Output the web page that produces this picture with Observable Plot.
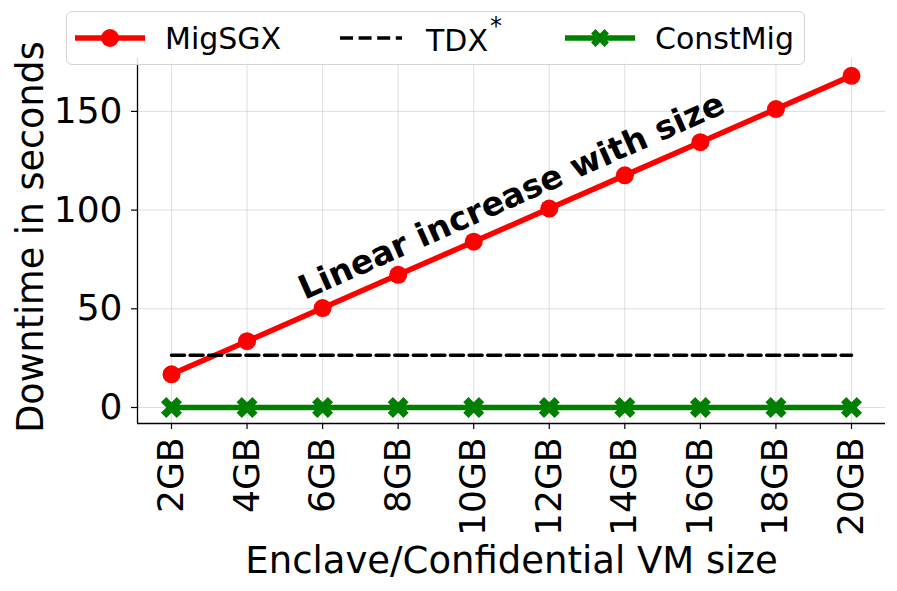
<!DOCTYPE html>
<html><head><meta charset="utf-8">
<script src="https://cdn.jsdelivr.net/npm/d3@7"></script>
<script src="https://cdn.jsdelivr.net/npm/@observablehq/plot@0.6"></script>
<style>
body{margin:0;background:#fff;font-family:"DejaVu Sans",sans-serif;}
#wrap{position:relative;width:897px;height:591px;overflow:hidden;}
#legend{position:absolute;left:66px;top:11px;width:737px;height:52px;border:1.5px solid #d4d4d4;border-radius:6px;background:rgba(255,255,255,0.85);}
.item{position:absolute;top:0;height:52px;display:flex;align-items:center;font-size:30px;color:#000;white-space:nowrap;}
.item svg{display:block;}
sup{font-size:24px;position:relative;top:-6px;margin-left:2px;}
</style></head><body>
<div id="wrap"><div id="chart"></div><div id="legend"></div></div>
<script>
// ---- data ----
const sizes = ["2GB","4GB","6GB","8GB","10GB","12GB","14GB","16GB","18GB","20GB"];
const migSGX = [16.8, 33.6, 50.4, 67.2, 84.0, 100.8, 117.6, 134.4, 151.2, 168.0];
const tdx = [26.5, 26.5, 26.5, 26.5, 26.5, 26.5, 26.5, 26.5, 26.5, 26.5];
const constMig = [0, 0, 0, 0, 0, 0, 0, 0, 0, 0];
const yTicks = [0, 50, 100, 150];
const seriesNames = ["MigSGX", "TDX", "ConstMig"];
const annotation = "Linear increase with size";
const annotX = 4.5, annotY = 107;
const xLabel = "Enclave/Confidential VM size";
const yLabel = "Downtime in seconds";

// ---- build ----
const idx = d3.range(sizes.length);
const rows = idx.map(i => ({i, mig: migSGX[i], tdx: tdx[i], cm: constMig[i]}));
const xDomain = [-0.45, sizes.length - 1 + 0.45];
const yDomain = [-8.1, 176.8];
const RED = "#ff0000", GREEN = "#008000";

const xFilled = {
  draw(ctx, size) {
    const r = Math.sqrt(size / Math.PI), k = r / 2;
    const p = [[-1,-2],[0,-1],[1,-2],[2,-1],[1,0],[2,1],[1,2],[0,1],[-1,2],[-2,1],[-1,0],[-2,-1]];
    ctx.moveTo(p[0][0]*k, p[0][1]*k);
    for (let j = 1; j < p.length; j++) ctx.lineTo(p[j][0]*k, p[j][1]*k);
    ctx.closePath();
  }
};

const gridStyle = {stroke: "#b0b0b0", strokeOpacity: 0.4, strokeWidth: 1};

const chart = Plot.plot({
  width: 897, height: 591,
  marginLeft: 137, marginRight: 12, marginTop: 58, marginBottom: 168,
  style: {fontFamily: '"DejaVu Sans", sans-serif', fontSize: "36px", color: "#000", background: "white", overflow: "visible"},
  x: {type: "linear", domain: xDomain},
  y: {domain: yDomain},
  marks: [
    Plot.gridX(idx, gridStyle),
    Plot.gridY(yTicks, gridStyle),
    Plot.axisX(idx, {tickFormat: i => sizes[i], tickRotate: -90, tickSize: 6, tickPadding: 8, fontSize: 36, label: null, strokeWidth: 1.2}),
    Plot.axisY(yTicks, {tickSize: 6, tickPadding: 9, fontSize: 36, label: null, strokeWidth: 1.2}),
    Plot.ruleX([xDomain[0]], {stroke: "#000", strokeWidth: 1.3}),
    Plot.ruleY([yDomain[0]], {stroke: "#000", strokeWidth: 1.3}),
    Plot.line(rows, {x: "i", y: "mig", stroke: RED, strokeWidth: 5.5}),
    Plot.dot(rows, {x: "i", y: "mig", r: 9, fill: RED}),
    Plot.line(rows, {x: "i", y: "tdx", stroke: "#000", strokeWidth: 3.5, strokeDasharray: "13,5.6"}),
    Plot.line(rows, {x: "i", y: "cm", stroke: GREEN, strokeWidth: 5.5}),
    Plot.dot(rows, {x: "i", y: "cm", r: 10.5, symbol: xFilled, fill: GREEN}),
    Plot.text([annotation], {x: annotX, y: annotY, text: d => d, rotate: -24, fontWeight: "bold", fontSize: 33, fill: "#000"}),
    Plot.text([xLabel], {frameAnchor: "bottom", text: d => d, dy: 149, lineAnchor: "bottom", textAnchor: "middle", fontSize: 37, fill: "#000"}),
    Plot.text([yLabel], {frameAnchor: "left", text: d => d, dx: -95, dy: -4, rotate: -90, lineAnchor: "bottom", textAnchor: "middle", fontSize: 36.5, fill: "#000"})
  ]
});
document.getElementById("chart").appendChild(chart);

// ---- legend ----
const legend = document.getElementById("legend");
function item(left, w, svgInner, label) {
  const d = document.createElement("div");
  d.className = "item";
  d.style.left = left + "px";
  d.innerHTML = `<svg width="${w}" height="24" style="margin-right:${w === 70 ? 20 : 24}px">${svgInner}</svg><span>${label}</span>`;
  legend.appendChild(d);
}
const xPts = [[-1,-2],[0,-1],[1,-2],[2,-1],[1,0],[2,1],[1,2],[0,1],[-1,2],[-2,1],[-1,0],[-2,-1]].map(p => [35 + p[0]*4.5, 12 + p[1]*4.5].join(",")).join(" ");
item(8, 70, `<line x1="0" x2="70" y1="12" y2="12" stroke="${RED}" stroke-width="5.5"/><circle cx="35" cy="12" r="9" fill="${RED}"/>`, seriesNames[0]);
item(273, 62, `<line x1="0" x2="62" y1="12" y2="12" stroke="#000" stroke-width="3.5" stroke-dasharray="13,5.6"/>`, seriesNames[1] + "<sup>*</sup>");
item(498, 70, `<line x1="0" x2="70" y1="12" y2="12" stroke="${GREEN}" stroke-width="5.5"/><polygon points="${xPts}" fill="${GREEN}"/>`, seriesNames[2]);
</script>
</body></html>
